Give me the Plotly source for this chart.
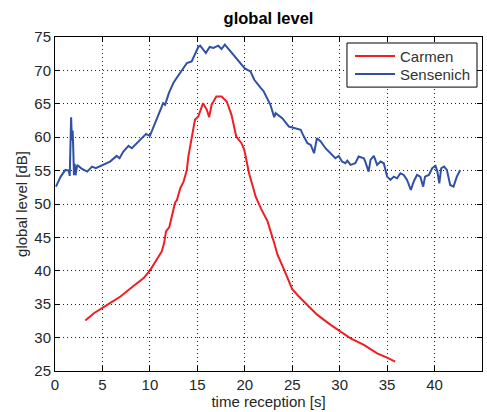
import plotly.graph_objects as go

sens_x = [0.1, 0.6, 1.1, 1.45, 1.55, 1.62, 1.7, 1.78, 1.86, 1.93, 2.0, 2.08, 2.16, 2.35, 2.8, 3.4, 3.9, 4.3, 5.1, 5.8, 6.5, 6.8, 7.2, 7.75, 8.1, 8.6, 9.2, 9.6,
          10.0, 10.4, 10.9, 11.4, 11.6, 12.0, 12.5, 13.2, 13.9, 14.4, 15.1, 15.3, 15.9, 16.3, 16.7, 17.2, 17.55, 17.9, 18.8, 19.5,
          20.0, 20.6, 21.0, 21.7, 22.0, 22.7, 23.1, 23.25, 23.95, 24.65, 25.2, 25.9, 26.05, 26.6, 26.95, 27.3, 27.6, 28.0, 28.5,
          29.05, 29.55, 29.9, 30.25, 30.6, 30.8, 31.15, 31.65, 32.0, 32.55, 32.7, 33.05, 33.25, 33.6, 33.95, 34.3, 34.65, 35.0,
          35.35, 35.7, 36.05, 36.4, 36.75, 37.1, 37.5, 37.8, 38.15, 38.5, 38.8, 39.0, 39.4, 39.75, 40.1, 40.3, 40.5, 40.7, 41.0,
          41.3, 41.65, 42.0, 42.35, 42.7]
sens_y = [52.6, 54.1, 55.1, 55.0, 54.2, 59.0, 63.0, 59.5, 61.0, 58.0, 54.3, 56.0, 54.3, 55.85, 55.3, 54.85, 55.6, 55.35, 55.85, 56.35, 57.2, 56.85, 57.85, 58.7, 58.35, 59.1, 59.85, 60.5,
          60.2, 61.6, 63.35, 65.1, 64.85, 66.6, 68.2, 69.6, 71.1, 71.35, 73.5, 73.7, 72.6, 73.5, 73.35, 73.7, 73.2, 73.85, 72.35, 71.2,
          70.3, 69.85, 68.6, 67.35, 66.85, 64.85, 63.0, 63.6, 62.85, 61.6, 61.35, 61.1, 60.6, 59.1, 58.85, 57.6, 59.85, 59.35, 58.35,
          57.6, 56.85, 57.2, 56.35, 56.1, 56.5, 55.85, 56.1, 57.1, 56.85, 56.35, 54.85, 56.6, 57.2, 55.85, 56.35, 56.1, 54.1,
          53.6, 54.1, 53.85, 54.6, 54.35, 53.6, 52.1, 53.35, 54.35, 54.1, 52.6, 54.1, 54.35, 55.35, 55.7, 54.85, 53.1, 55.35, 55.6,
          55.1, 52.85, 52.6, 54.1, 55.1]

carm_x = [3.2, 4.1, 5.5, 6.9, 8.3, 9.35, 10.05, 10.75, 11.25, 11.5, 11.7, 12.05, 12.3, 12.65, 12.85, 13.2, 13.55, 13.9, 14.05, 14.4,
          14.75, 15.1, 15.6, 16.0, 16.25, 16.5, 17.0, 17.55, 18.1, 18.6, 19.1, 19.65, 19.95, 20.45, 21.15, 21.7, 22.4, 23.1,
          23.45, 24.15, 25.0, 25.7, 26.6, 27.65, 29.05, 30.1, 31.15, 32.55, 33.95, 35.0, 35.85]
carm_y = [32.55, 33.65, 34.9, 36.15, 37.75, 38.9, 40.15, 41.65, 42.9, 44.15, 45.9, 46.55, 48.15, 50.2, 50.6, 52.35, 53.35, 55.1, 57.1, 60.1,
          62.6, 63.1, 65.1, 64.1, 63.0, 64.85, 66.1, 66.1, 65.35, 63.35, 60.1, 59.1, 58.1, 54.6, 51.1, 49.35, 47.4, 44.15,
          42.4, 40.15, 37.25, 36.15, 34.9, 33.4, 31.9, 30.9, 29.9, 28.9, 27.65, 27.0, 26.4]

series_names = ["Carmen", "Sensenich"]
series_colors = ["rgb(240,30,36)", "rgb(48,80,165)"]

x_ticks = [0, 5, 10, 15, 20, 25, 30, 35, 40, 45]
y_ticks = [25, 30, 35, 40, 45, 50, 55, 60, 65, 70, 75]

FONT = "Arial"
TXT = "#262626"

fig = go.Figure()
for name, xs, ys, col in zip(series_names, [carm_x, sens_x], [carm_y, sens_y], series_colors):
    fig.add_trace(go.Scatter(x=xs, y=ys, mode="lines", name=name, showlegend=False,
                             line=dict(color=col, width=2)))

axis_common = dict(showline=True, linecolor="black", linewidth=1, mirror="ticks",
                   ticks="inside", ticklen=5, tickcolor="black",
                   showgrid=True, gridcolor="#222", griddash="1px,3px", gridwidth=1,
                   zeroline=False, tickfont=dict(family=FONT, size=15, color=TXT))

# MATLAB-style legend box (paper coordinates of the plot area)
shapes = [dict(type="rect", xref="paper", yref="paper", x0=0.6838, x1=0.9883, y0=0.850, y1=0.982,
               line=dict(color="black", width=1), fillcolor="white", layer="above")]
annotations = []
row_y = [0.9431, 0.8892]
for name, col, yy in zip(series_names, series_colors, row_y):
    shapes.append(dict(type="line", xref="paper", yref="paper", x0=0.7026, x1=0.7963, y0=yy, y1=yy,
                       line=dict(color=col, width=2), layer="above"))
    annotations.append(dict(xref="paper", yref="paper", x=0.8033, y=yy, xanchor="left", yanchor="middle",
                            text=name, showarrow=False, font=dict(family=FONT, size=15, color="#333")))

fig.update_layout(
    width=487, height=412,
    margin=dict(l=55, r=5, t=37, b=41),
    paper_bgcolor="white", plot_bgcolor="white",
    title=dict(text="<b>global level</b>", x=(55 + 482) / 2 / 487, xanchor="center",
               y=1 - 18 / 412, yanchor="middle",
               font=dict(family=FONT, size=16.5, color="black")),
    xaxis=dict(range=[0, 45], tickvals=x_ticks,
               title=dict(text="time reception [s]", standoff=2,
                          font=dict(family=FONT, size=15, color=TXT)),
               **axis_common),
    yaxis=dict(range=[25, 75], tickvals=y_ticks,
               title=dict(text="global level [dB]", standoff=3,
                          font=dict(family=FONT, size=15, color=TXT)),
               **axis_common),
    shapes=shapes,
    annotations=annotations,
    showlegend=False,
)

fig.write_html("out.html")
